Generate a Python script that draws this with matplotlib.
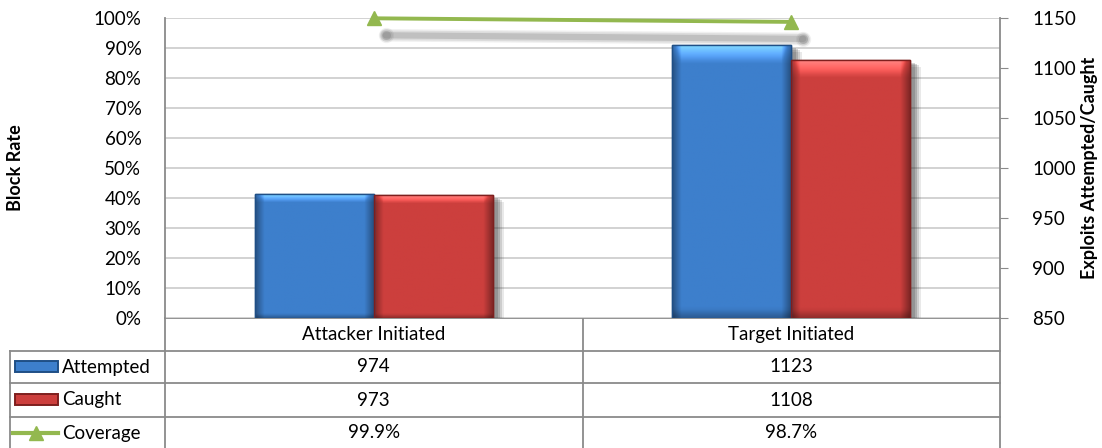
import numpy as np
import matplotlib
matplotlib.use("Agg")
import matplotlib.pyplot as plt
import matplotlib.patheffects as pe
import matplotlib.transforms as mtransforms
from matplotlib.patches import Rectangle

plt.rcParams['font.family'] = ['Lato', 'DejaVu Sans']

categories = ['Attacker Initiated', 'Target Initiated']
attempted = [974, 1123]
caught = [973, 1108]
coverage = [0.999, 0.987]
coverage_labels = ['99.9%', '98.7%']
series_names = ['Attempted', 'Caught', 'Coverage']
pct_ticks = np.arange(0, 1.01, 0.1)
count_ticks = [850, 900, 950, 1000, 1050, 1100, 1150]

blue = '#3d7fcc'
blue_dark = '#1f4f86'
red = '#cc3f3d'
red_dark = '#7e1f1e'
green = '#93b84f'
grid_c = '#c6c6c6'
line_c = '#8a8a8a'
fs = 13.5

W, H = 1102, 448
fig = plt.figure(figsize=(W / 100, H / 100), dpi=100)

# plot area in pixels
L, R, T, B = 165, 1000, 18, 318
ax = fig.add_axes([L / W, 1 - B / H, (R - L) / W, (B - T) / H])
axp = ax.twinx()
ax.set_xlim(-0.5, 1.5)
ax.set_ylim(850, 1150)

# horizontal gridlines at the percent ticks (behind bars)
for t in pct_ticks:
    ax.plot([0, 1], [t, t], transform=ax.transAxes, color=grid_c, lw=1.1, zorder=0)

x = np.arange(len(categories))
bw = 0.285


def shaded_bar(xc, val, color, dark):
    shadow = [pe.SimplePatchShadow(offset=(off, -off * 0.6), shadow_rgbFace='#303030', alpha=a)
              for off, a in [(8, 0.10), (6.5, 0.15), (5, 0.2), (3.5, 0.2)]] + [pe.Normal()]
    b = ax.bar(xc, val - 850, bottom=850, width=bw, color=color, edgecolor=dark,
               linewidth=1.0, zorder=2)[0]
    b.set_path_effects(shadow)
    # bevel-like gradient clipped to the bar
    n = 80
    gx = np.linspace(-1, 1, n)
    prof = 1 - 0.35 * np.clip(np.abs(gx) - 0.85, 0, None) / 0.15
    gy = np.linspace(0, 1, n)
    top = 1 + 0.3 * np.clip(gy - 0.94, 0, None) / 0.06
    bot = 1 - 0.25 * np.clip(0.03 - gy, 0, None) / 0.03
    shade = np.outer(top * bot, prof)
    rgb = np.array(matplotlib.colors.to_rgb(color))
    img = np.clip(shade[..., None] * rgb[None, None, :] +
                  np.clip(shade - 1, 0, None)[..., None] * 0.6, 0, 1)
    x0, y0 = b.get_x(), b.get_y()
    im = ax.imshow(img, extent=[x0, x0 + b.get_width(), y0, y0 + b.get_height()],
                   origin='lower', aspect='auto', zorder=2.5, interpolation='bilinear')
    im.set_clip_path(b)
    ax.add_patch(Rectangle((x0, y0), b.get_width(), b.get_height(), fill=False,
                           edgecolor=dark, lw=1.0, zorder=3))


for i in range(len(categories)):
    shaded_bar(x[i] - bw / 2, attempted[i], blue, blue_dark)
    shaded_bar(x[i] + bw / 2, caught[i], red, red_dark)

ax.set_xticks([])
ax.yaxis.tick_right()
ax.set_yticks(count_ticks)
ax.tick_params(axis='y', direction='out', length=6, color=line_c, labelsize=fs, pad=17)
ax.yaxis.set_label_position('right')
ax.set_ylabel('Exploits Attempted/Caught', fontsize=13, fontweight='bold', va='center')
ax.yaxis.set_label_coords((1090 - L) / (R - L), 0.5)
for s in ['top', 'bottom', 'left']:
    ax.spines[s].set_visible(False)
ax.spines['right'].set_color(line_c)
ax.spines['right'].set_linewidth(1.3)

# percent axis on the left, drawn on top
axp.set_ylim(0, 1)
axp.yaxis.tick_left()
axp.set_yticks(pct_ticks)
axp.set_yticklabels(['%d%%' % round(t * 100) for t in pct_ticks])
axp.tick_params(axis='y', direction='in', length=0, labelsize=fs, pad=17)
axp.yaxis.set_label_position('left')
axp.set_ylabel('Block Rate', fontsize=13, fontweight='bold', va='center')
axp.yaxis.set_label_coords((16 - L) / (R - L), 0.5)
for s in ['top', 'bottom', 'right']:
    axp.spines[s].set_visible(False)
axp.spines['left'].set_color(line_c)
axp.spines['left'].set_linewidth(1.3)
axp.set_xlim(-0.5, 1.5)

# soft shadow of the coverage line
sh = mtransforms.offset_copy(axp.transData, fig=fig, x=12, y=-17, units='dots')
for w, a in [(9, 0.10), (7, 0.15), (4.5, 0.25)]:
    axp.plot(x, coverage, color='#707070', lw=w, alpha=a, solid_capstyle='round',
             marker='o', ms=w + 2, mew=0, transform=sh, clip_on=False, zorder=4)
axp.plot(x, coverage, color=green, lw=2.8, marker='^', ms=10, clip_on=False, zorder=5)

# data table below the plot
tab = fig.add_axes([0, 0, 1, 1], zorder=-1)
tab.set_xlim(0, W)
tab.set_ylim(H, 0)
tab.axis('off')
rows = [318, 351, 383, 417, 449]
mid = (L + R) / 2
kw = dict(color=line_c, lw=1.3)
tab.plot([L, R], [rows[0], rows[0]], **kw)
for yy in rows[1:4]:
    tab.plot([10, R], [yy, yy], **kw)
tab.plot([10, 10], [rows[1], H], **kw)
for xx in [L, mid, R]:
    tab.plot([xx, xx], [rows[0], H], **kw)

cat_px = [L + (R - L) * (xi + 0.5) / 2 for xi in x]
for cx, name in zip(cat_px, categories):
    tab.text(cx, (rows[0] + rows[1]) / 2, name, ha='center', va='center', fontsize=fs)
table_vals = [[str(v) for v in attempted], [str(v) for v in caught], coverage_labels]
for r, vals in enumerate(table_vals):
    yc = (rows[r + 1] + rows[r + 2]) / 2
    for cx, v in zip(cat_px, vals):
        tab.text(cx, yc, v, ha='center', va='center', fontsize=fs)
    tab.text(62, yc, series_names[r], ha='left', va='center', fontsize=fs)

# legend keys
for r, (c, d) in enumerate([(blue, blue_dark), (red, red_dark)]):
    yc = (rows[r + 1] + rows[r + 2]) / 2
    tab.add_patch(Rectangle((15, yc - 5.5), 43, 11, facecolor=c, edgecolor=d, lw=1.4))
yc = (rows[3] + rows[4]) / 2
tab.plot([13, 58], [yc, yc], color=green, lw=3)
tab.plot([35.5], [yc], marker='^', ms=10, color=green, lw=0)

fig.savefig('out.png', dpi=100)
